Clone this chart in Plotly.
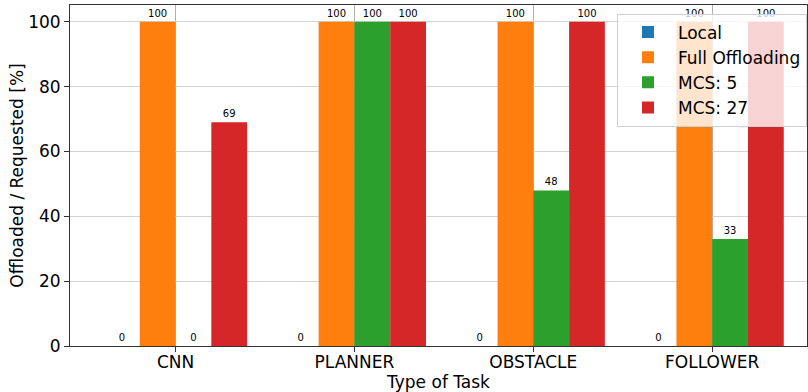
import plotly.graph_objects as go

# Task categories and offloading percentages per strategy
tasks = ["CNN", "PLANNER", "OBSTACLE", "FOLLOWER"]
local = [0, 0, 0, 0]
full_offloading = [100, 100, 100, 100]
mcs_5 = [0, 100, 48, 33]
mcs_27 = [69, 100, 100, 100]

series = [
    ("Local", local, "#1f77b4"),
    ("Full Offloading", full_offloading, "#ff7f0e"),
    ("MCS: 5", mcs_5, "#2ca02c"),
    ("MCS: 27", mcs_27, "#d62728"),
]

FONT = "DejaVu Sans"
FS = 17

fig = go.Figure()
for name, vals, color in series:
    fig.add_trace(go.Bar(
        name=name,
        x=tasks,
        y=vals,
        marker=dict(color=color, line=dict(width=0)),
        text=[str(v) for v in vals],
        textposition="outside",
        textfont=dict(family=FONT, size=10, color="black"),
        cliponaxis=False,
    ))

fig.update_layout(
    barmode="group",
    bargap=0.2,
    bargroupgap=0,
    width=808,
    height=392,
    margin=dict(l=70, r=1, t=5, b=46),
    plot_bgcolor="white",
    paper_bgcolor="white",
    font=dict(family=FONT, size=FS, color="black"),
    legend=dict(
        x=1.0, xanchor="right",
        y=0.975, yanchor="top",
        bgcolor="rgba(255,255,255,0.8)",
        bordercolor="#d0d0d0",
        borderwidth=1,
        font=dict(family=FONT, size=FS, color="black"),
        itemwidth=50,
    ),
)

fig.update_xaxes(
    range=[-0.59, 3.53],
    showline=True, mirror=True, linecolor="#333333", linewidth=1,
    ticks="outside", ticklen=5, tickcolor="#333333",
    showgrid=True, gridcolor="#b0b0b0", gridwidth=1,
    layer="above traces",
    tickfont=dict(family=FONT, size=FS),
    ticklabelstandoff=-4,
    title=dict(text="Type of Task", font=dict(family=FONT, size=FS), standoff=0),
)
fig.update_yaxes(
    range=[0, 105.2],
    tickvals=[0, 20, 40, 60, 80, 100],
    showline=True, mirror=True, linecolor="#333333", linewidth=1,
    ticks="outside", ticklen=5, tickcolor="#333333",
    showgrid=True, gridcolor="#d3d3d3", gridwidth=1,
    zeroline=False,
    tickfont=dict(family=FONT, size=FS),
    title=dict(text="Offloaded / Requested [%]", font=dict(family=FONT, size=FS), standoff=0),
)

fig.write_html("out.html")
